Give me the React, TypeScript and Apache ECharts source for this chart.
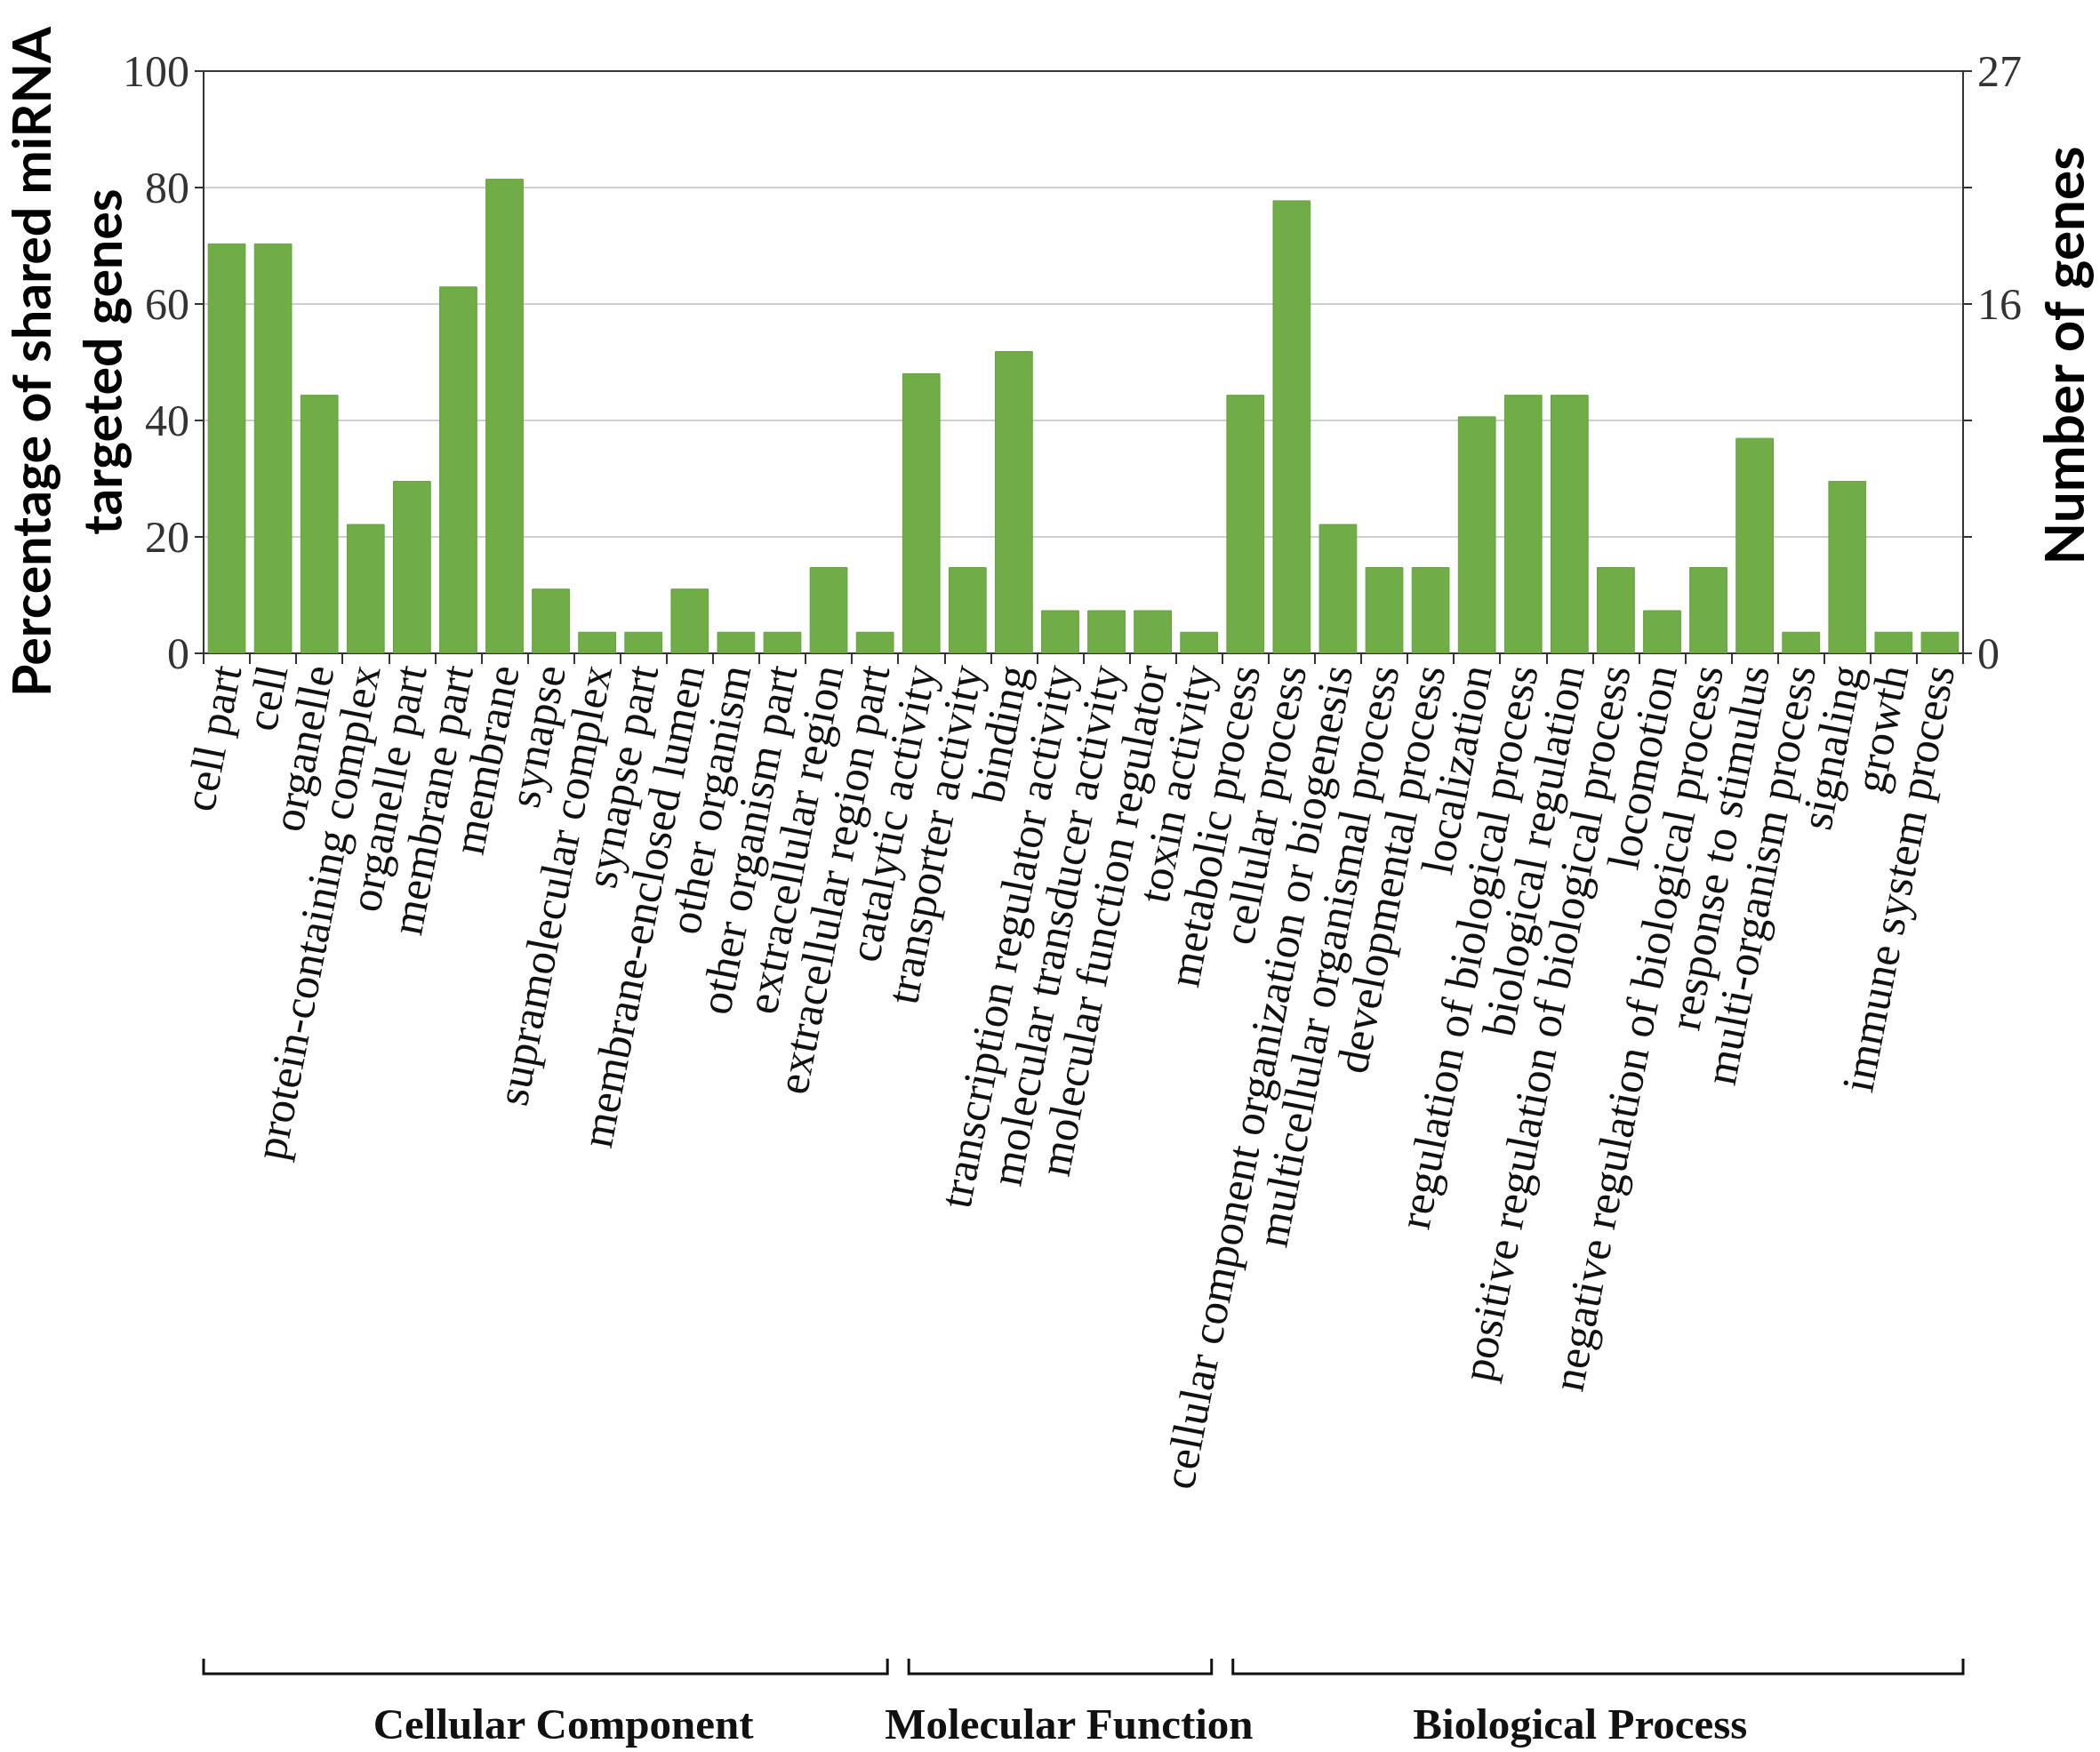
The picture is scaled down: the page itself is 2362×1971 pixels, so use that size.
import React, { useEffect, useRef } from "react";
import * as echarts from "echarts";

const categories = [
  "cell part", "cell", "organelle", "protein-containing complex", "organelle part",
  "membrane part", "membrane", "synapse", "supramolecular complex", "synapse part",
  "membrane-enclosed lumen", "other organism", "other organism part", "extracellular region",
  "extracellular region part", "catalytic activity", "transporter activity", "binding",
  "transcription regulator activity", "molecular transducer activity",
  "molecular function regulator", "toxin activity", "metabolic process", "cellular process",
  "cellular component organization or biogenesis", "multicellular organismal process",
  "developmental process", "localization", "regulation of biological process",
  "biological regulation", "positive regulation of biological process", "locomotion",
  "negative regulation of biological process", "response to stimulus",
  "multi-organism process", "signaling", "growth", "immune system process",
];

const percentValues = [
  70.4, 70.4, 44.4, 22.2, 29.6, 63.0, 81.5, 11.1, 3.7, 3.7,
  11.1, 3.7, 3.7, 14.8, 3.7, 48.1, 14.8, 51.9, 7.4, 7.4,
  7.4, 3.7, 44.4, 77.8, 22.2, 14.8, 14.8, 40.7, 44.4, 44.4,
  14.8, 7.4, 14.8, 37.0, 3.7, 29.6, 3.7, 3.7,
];

const groupNames = ["Cellular Component", "Molecular Function", "Biological Process"];
const groupSizes = [15, 7, 16];

const rightTickLabels: Record<number, string> = { 0: "0", 60: "16", 100: "27" };

const W = 2362;
const H = 1971;
const GRID = { left: 229, right: 154, top: 80, bottom: 1236 };

export default function App() {
  const ref = useRef<HTMLDivElement>(null);

  useEffect(() => {
    document.body.style.margin = "0";
    const chart = echarts.init(ref.current!, null, { renderer: "svg" });

    const plotW = W - GRID.left - GRID.right;
    const catW = plotW / categories.length;
    const bracketY = 1883;
    const bracketTop = 1866;
    const gap = 12;
    const graphics: any[] = [];
    let start = 0;
    groupSizes.forEach((n, gi) => {
      const x0 = GRID.left + start * catW + (gi === 0 ? 0 : gap);
      const x1 = GRID.left + (start + n) * catW - (gi === groupSizes.length - 1 ? 0 : gap);
      graphics.push({
        type: "polyline",
        shape: { points: [[x0, bracketTop], [x0, bracketY], [x1, bracketY], [x1, bracketTop]] },
        style: { stroke: "#111", lineWidth: 3, fill: "none" },
      });
      graphics.push({
        type: "text",
        x: (x0 + x1) / 2 + (gi === 0 ? 20 : gi === 2 ? -20 : 10),
        y: 1939,
        style: {
          text: groupNames[gi],
          font: "bold 49px 'Liberation Serif', serif",
          fill: "#111",
          align: "center",
          verticalAlign: "middle",
        },
      });
      start += n;
    });

    graphics.push({
      type: "text",
      x: 74,
      y: 407,
      rotation: Math.PI / 2,
      style: {
        text: "Percentage of shared miRNA\ntargeted genes",
        font: "bold 59px Lato, 'Open Sans', sans-serif",
        fill: "#000",
        align: "center",
        verticalAlign: "middle",
        lineHeight: 80,
      },
    });
    graphics.push({
      type: "text",
      x: 2320,
      y: 400,
      rotation: Math.PI / 2,
      style: {
        text: "Number of genes",
        font: "bold 62px Lato, 'Open Sans', sans-serif",
        fill: "#000",
        align: "center",
        verticalAlign: "middle",
      },
    });

    const tickFont = { fontFamily: "'Liberation Serif', serif", fontSize: 50, color: "#333" };

    chart.setOption({
      animation: false,
      backgroundColor: "#fff",
      grid: {
        left: GRID.left,
        right: GRID.right,
        top: GRID.top,
        bottom: GRID.bottom,
        show: true,
        borderColor: "#333",
        borderWidth: 2,
        backgroundColor: "transparent",
      },
      xAxis: {
        type: "category",
        data: categories,
        axisLine: { lineStyle: { color: "#333", width: 2 } },
        axisTick: { show: true, interval: 0, length: 12, lineStyle: { color: "#333", width: 2 } },
        axisLabel: {
          interval: 0,
          rotate: 79,
          margin: 14,
          fontFamily: "'Liberation Serif', serif",
          fontSize: 51,
          color: "#111",
        },
      },
      yAxis: [
        {
          type: "value",
          min: 0,
          max: 100,
          interval: 20,
          axisLine: { show: true, lineStyle: { color: "#333", width: 2 } },
          axisTick: { show: true, length: 10, lineStyle: { color: "#333", width: 2 } },
          axisLabel: { ...tickFont, margin: 16 },
          splitLine: { show: true, showMinLine: false, showMaxLine: false, lineStyle: { color: "#cfcfcf", width: 2 } },
        },
        {
          type: "value",
          min: 0,
          max: 100,
          interval: 20,
          position: "right",
          axisLine: { show: true, lineStyle: { color: "#333", width: 2 } },
          axisTick: { show: true, length: 10, lineStyle: { color: "#333", width: 2 } },
          axisLabel: {
            ...tickFont,
            margin: 16,
            formatter: (v: number) => rightTickLabels[v] ?? "",
          },
          splitLine: { show: false },
        },
      ],
      series: [
        {
          type: "bar",
          data: percentValues,
          barCategoryGap: "18%",
          itemStyle: { color: "#70AD47", borderColor: "#62a03c", borderWidth: 1 },
        },
      ],
      graphic: graphics,
    });

    return () => chart.dispose();
  }, []);

  return <div ref={ref} style={{ width: W, height: H }} />;
}
